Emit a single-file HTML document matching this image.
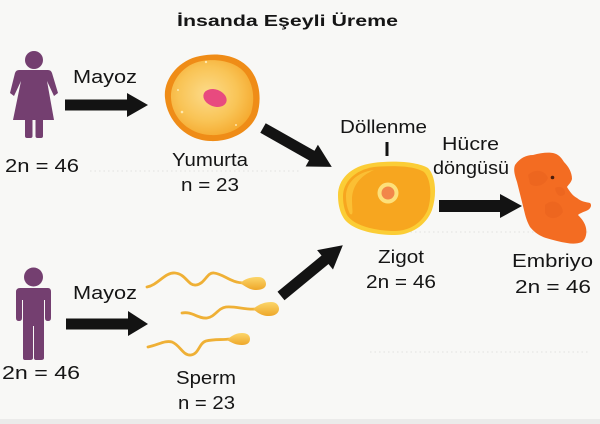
<!DOCTYPE html>
<html><head><meta charset="utf-8"><style>
html,body{margin:0;padding:0;background:#f8f8f6;}
svg{display:block;}
text{font-family:"Liberation Sans",Arial,sans-serif;fill:#151515;}
</style></head><body>
<svg width="600" height="424" viewBox="0 0 600 424" xmlns="http://www.w3.org/2000/svg">
<defs>
<radialGradient id="eggG" cx="0.45" cy="0.45" r="0.6">
<stop offset="0" stop-color="#fcdb8a"/><stop offset="0.6" stop-color="#f9c456"/><stop offset="1" stop-color="#f5a92e"/>
</radialGradient>
<linearGradient id="spG" x1="0" y1="0" x2="0" y2="1">
<stop offset="0" stop-color="#fcd66a"/><stop offset="1" stop-color="#eea72a"/>
</linearGradient>
</defs>
<rect width="600" height="424" fill="#f8f8f6"/>
<g stroke="#e2e2e0" stroke-width="1" stroke-dasharray="1.5,3">
<line x1="90" y1="171" x2="300" y2="171"/>
<line x1="370" y1="232" x2="590" y2="232"/>
<line x1="370" y1="352" x2="590" y2="352"/>
</g>
<rect x="0" y="419" width="600" height="5" fill="#ebebea"/>

<!-- Title -->
<text x="177" y="26" font-size="16" font-weight="bold" textLength="221" lengthAdjust="spacingAndGlyphs">İnsanda Eşeyli Üreme</text>

<!-- Female -->
<g fill="#743f70">
<circle cx="34" cy="60" r="9"/>
<path d="M19,70 L48,70 Q51,70 52,73 L58,93 L54,96 L47,81 L54,120 L13,120 L21,81 L14,96 L10,93 L15,73 Q16,70 19,70 Z"/>
<rect x="25" y="117" width="7.5" height="21" rx="2"/>
<rect x="35.5" y="117" width="7.5" height="21" rx="2"/>
</g>

<!-- Male -->
<g fill="#743f70">
<circle cx="33.5" cy="277" r="9.5"/>
<path d="M20,288 L48,288 Q51,288 51,292 L51,318 Q51,321 48,321 Q45,321 45,318 L45,300 L44,300 L44,358 Q44,360 41,360 L36,360 Q34,360 34,358 L34,326 L33,326 L33,358 Q33,360 30,360 L25,360 Q23,360 23,358 L23,300 L22,300 L22,318 Q22,321 19,321 Q16,321 16,318 L16,292 Q16,288 20,288 Z"/>
</g>

<!-- Arrows -->
<g fill="#131313">
<rect x="65" y="99.5" width="63" height="11"/>
<polygon points="127,93 148,105 127,117"/>
<rect x="66" y="318.5" width="63" height="11"/>
<polygon points="128,311 148,324 128,336"/>
<rect x="439" y="200" width="62" height="12"/>
<polygon points="500,194 522,206 500,218"/>
<g transform="translate(263,128) rotate(29.5)">
<rect x="0" y="-5.5" width="58" height="11"/>
<polygon points="56,-12.5 79,0 56,12.5"/>
</g>
<g transform="translate(281,296) rotate(-39.4)">
<rect x="0" y="-5.5" width="59" height="11"/>
<polygon points="57,-12.5 80,0 57,12.5"/>
</g>
<rect x="385.5" y="142" width="3" height="14"/>
</g>

<!-- Egg -->
<path d="M165,98 C163,80 178,60 200,56 C220,52 238,56 249,68 C260,80 262,100 257,115 C250,132 230,142 210,141 C185,140 167,120 165,98 Z" fill="#ef8c17"/>
<path d="M171,98 C170,82 183,64 202,61 C220,58 237,63 245,73 C254,85 255,100 251,113 C244,128 228,136 210,135 C189,134 172,118 171,98 Z" fill="url(#eggG)"/>
<ellipse cx="215" cy="98" rx="12" ry="8.5" transform="rotate(20 215 98)" fill="#e84a7f"/>
<g fill="#fff3c8" opacity="0.8">
<circle cx="182" cy="112" r="1.3"/><circle cx="206" cy="62" r="1.2"/><circle cx="178" cy="90" r="1"/><circle cx="236" cy="125" r="1"/>
</g>

<!-- Zygote -->
<path d="M338,195 C338,180 350,166 373,163 C395,160 418,162 428,168 C436,176 437,195 432,210 C426,226 410,235 395,235 C375,235 350,230 343,217 C339,210 338,202 338,195 Z" fill="#fbcd36"/>
<path d="M343,196 C343,183 354,170 374,167 C395,165 415,166 424,172 C431,179 432,196 428,209 C422,224 408,231 395,231 C376,231 354,226 347,215 C344,209 343,203 343,196 Z" fill="#f7a61f"/>
<path d="M346,196 C346,184 356,172 374,170 C360,176 352,186 352,200 C352,210 354,216 350,214 C347,208 346,202 346,196 Z" fill="#fbc63a" opacity="0.8"/>
<circle cx="388" cy="193" r="10.5" fill="#fde07a"/>
<circle cx="388" cy="193" r="6.5" fill="#f2864a"/>

<!-- Embryo -->
<path d="M515,165 C520,158 526,155 533,155 C540,153 548,152 553,153 C558,154 561,157 564,162 C568,166 572,172 572,179 C571,183 568,185 567,187 C570,192 573,196 577,198 C582,202 586,202 590,203 C592,205 591,208 588,210 C584,212 580,213 578,215 C582,219 585,223 586,228 C587,233 586,239 582,242 C577,244 572,244 567,243 C560,242 553,240 546,238 C540,236 535,233 530,227 C526,220 525,214 523,206 C521,198 519,190 517,182 C515,176 513,170 515,165 Z" fill="#f36c22"/>
<g fill="#e9621e" opacity="0.5">
<path d="M528,175 C535,168 545,170 548,178 C545,186 535,188 530,184 Z"/>
<path d="M545,205 C552,198 562,202 563,212 C558,220 548,220 545,213 Z"/>
<path d="M555,188 C560,185 566,188 565,194 C561,198 556,196 555,188 Z"/>
</g>
<circle cx="552.5" cy="177.5" r="1.8" fill="#4a1d0c"/>

<!-- Sperm -->
<g fill="none" stroke="#efb035" stroke-width="2.8" stroke-linecap="round">
<path d="M147,287 C158,285 165,272 175,273 C186,274 188,286 196,285 C205,284 207,272 214,273 C224,274 230,283 245,283"/>
<path d="M182,313 C192,311 198,319 207,318 C215,317 218,308 226,307 C236,306 245,310 256,309"/>
<path d="M148,347 C158,345 165,340 172,342 C180,345 183,356 191,355 C199,354 199,343 206,341 C214,339 222,340 230,339"/>
</g>
<g fill="url(#spG)">
<path d="M240,283 C246,278 252,277 258,277 C264,277 266,281 266,284 C266,288 262,290 256,290 C250,290 246,287 240,283 Z"/>
<path d="M253,309 C259,304 265,302 271,302 C277,302 279,306 279,309 C279,313 275,316 269,316 C263,316 259,314 253,309 Z"/>
<path d="M227,340 C232,335 237,333 242,333 C248,333 250,336 250,339 C250,343 247,345 242,345 C236,345 232,343 227,340 Z"/>
</g>

<!-- Labels -->
<g font-size="18">
<text x="73" y="83" textLength="64" lengthAdjust="spacingAndGlyphs">Mayoz</text>
<text x="5" y="172" textLength="74" lengthAdjust="spacingAndGlyphs">2n = 46</text>
<text x="172" y="166" textLength="76" lengthAdjust="spacingAndGlyphs">Yumurta</text>
<text x="181" y="191" textLength="58" lengthAdjust="spacingAndGlyphs">n = 23</text>
<text x="340" y="133" textLength="87" lengthAdjust="spacingAndGlyphs">Döllenme</text>
<text x="442" y="150" textLength="57" lengthAdjust="spacingAndGlyphs">Hücre</text>
<text x="433" y="174" textLength="76" lengthAdjust="spacingAndGlyphs">döngüsü</text>
<text x="378" y="263" textLength="46" lengthAdjust="spacingAndGlyphs">Zigot</text>
<text x="366" y="288" textLength="70" lengthAdjust="spacingAndGlyphs">2n = 46</text>
<text x="512" y="267" textLength="81" lengthAdjust="spacingAndGlyphs">Embriyo</text>
<text x="515" y="293" textLength="76" lengthAdjust="spacingAndGlyphs">2n = 46</text>
<text x="73" y="299" textLength="64" lengthAdjust="spacingAndGlyphs">Mayoz</text>
<text x="2" y="379" textLength="78" lengthAdjust="spacingAndGlyphs">2n = 46</text>
<text x="176" y="384" textLength="60" lengthAdjust="spacingAndGlyphs">Sperm</text>
<text x="178" y="409" textLength="57" lengthAdjust="spacingAndGlyphs">n = 23</text>
</g>
</svg>
</body></html>
